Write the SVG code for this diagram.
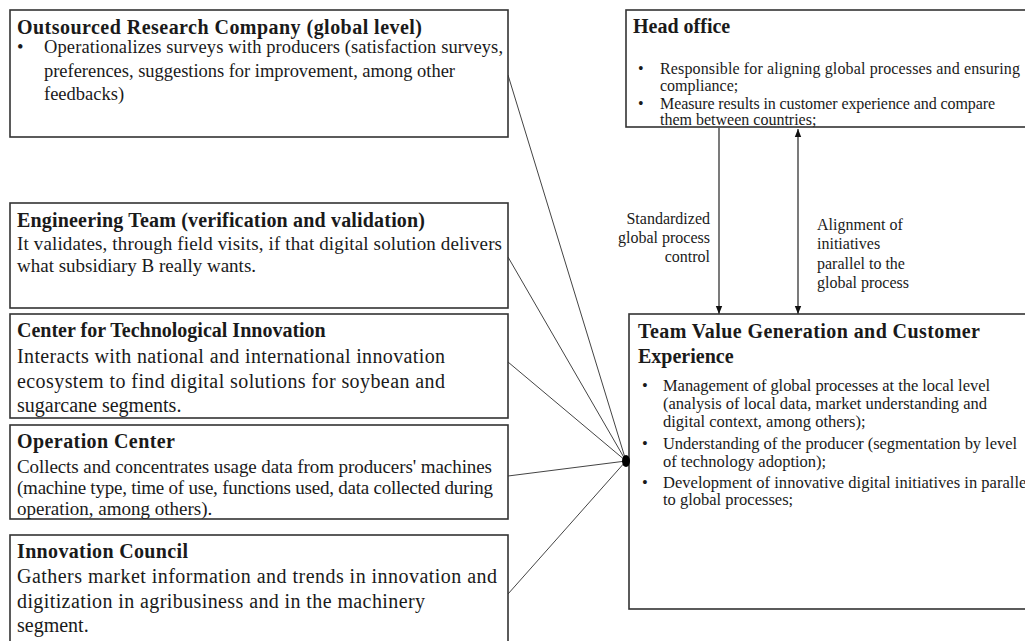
<svg xmlns="http://www.w3.org/2000/svg" width="1025" height="641" viewBox="0 0 1025 641">
  <style>
    .box { fill: #ffffff; stroke: #333333; stroke-width: 1.6; }
    .t { font-family: "Liberation Serif", "Times New Roman", serif; fill: #1a1a1a; }
    .h { font-weight: bold; }
    .link { stroke: #444444; stroke-width: 1; fill: none; }
    .flow { stroke: #222222; stroke-width: 1.2; fill: none; }
  </style>
  <defs>
    <marker id="arrow" markerWidth="8" markerHeight="8" refX="8" refY="4" orient="auto-start-reverse" markerUnits="userSpaceOnUse">
      <path d="M0,0.8 L8,4 L0,7.2 z" fill="#111111"/>
    </marker>
  </defs>

  <rect width="1025" height="641" fill="#ffffff"/>

  <!-- connectors -->
  <g id="connectors">
    <line class="link" x1="508" y1="75" x2="626" y2="461"/>
    <line class="link" x1="508" y1="257" x2="626" y2="461"/>
    <line class="link" x1="508" y1="362" x2="626" y2="461"/>
    <line class="link" x1="508" y1="476" x2="626" y2="461"/>
    <line class="link" x1="508" y1="594" x2="626" y2="461"/>
    <line class="flow" x1="719" y1="128" x2="719" y2="314" marker-end="url(#arrow)"/>
    <line class="flow" x1="798" y1="129" x2="798" y2="314" stroke="#555555" marker-start="url(#arrow)" marker-end="url(#arrow)"/>
  </g>

  <!-- left column -->
  <g id="research-company">
    <rect class="box" x="10" y="10" width="498" height="127"/>
    <text class="t h" x="17" y="34" font-size="20" textLength="405" lengthAdjust="spacing">Outsourced Research Company (global level)</text>
    <text class="t" x="17" y="53" font-size="18.5">•</text>
    <text class="t" x="44" y="53" font-size="18.5" textLength="459" lengthAdjust="spacing">Operationalizes surveys with producers (satisfaction surveys,</text>
    <text class="t" x="44" y="77" font-size="18.5" textLength="411" lengthAdjust="spacing">preferences, suggestions for improvement, among other</text>
    <text class="t" x="44" y="100" font-size="18.5">feedbacks)</text>
  </g>

  <g id="engineering-team">
    <rect class="box" x="10" y="203" width="498" height="105"/>
    <text class="t h" x="17" y="227" font-size="20" textLength="408" lengthAdjust="spacing">Engineering Team (verification and validation)</text>
    <text class="t" x="17" y="250" font-size="19" textLength="485" lengthAdjust="spacing">It validates, through field visits, if that digital solution delivers</text>
    <text class="t" x="17" y="272" font-size="19">what subsidiary B really wants.</text>
  </g>

  <g id="tech-innovation-center">
    <rect class="box" x="10" y="314" width="498" height="104"/>
    <text class="t h" x="17" y="337" font-size="20">Center for Technological Innovation</text>
    <text class="t" x="17" y="363" font-size="20" textLength="428" lengthAdjust="spacing">Interacts with national and international innovation</text>
    <text class="t" x="17" y="388" font-size="20" textLength="428" lengthAdjust="spacing">ecosystem to find digital solutions for soybean and</text>
    <text class="t" x="17" y="412" font-size="20">sugarcane segments.</text>
  </g>

  <g id="operation-center">
    <rect class="box" x="10" y="425" width="498" height="94"/>
    <text class="t h" x="17" y="448" font-size="20" textLength="158" lengthAdjust="spacing">Operation Center</text>
    <text class="t" x="17" y="473" font-size="19" textLength="475" lengthAdjust="spacing">Collects and concentrates usage data from producers' machines</text>
    <text class="t" x="17" y="494" font-size="19" textLength="476" lengthAdjust="spacing">(machine type, time of use, functions used, data collected during</text>
    <text class="t" x="17" y="515" font-size="19">operation, among others).</text>
  </g>

  <g id="innovation-council">
    <rect class="box" x="10" y="535" width="498" height="115"/>
    <text class="t h" x="17" y="558" font-size="20" textLength="171" lengthAdjust="spacing">Innovation Council</text>
    <text class="t" x="17" y="583" font-size="20" textLength="480" lengthAdjust="spacing">Gathers market information and trends in innovation and</text>
    <text class="t" x="17" y="608" font-size="20" textLength="408" lengthAdjust="spacing">digitization in agribusiness and in the machinery</text>
    <text class="t" x="17" y="632" font-size="20">segment.</text>
  </g>

  <!-- right column -->
  <g id="head-office">
    <rect class="box" x="626" y="10" width="420" height="117"/>
    <text class="t h" x="633" y="33" font-size="20">Head office</text>
    <text class="t" x="638" y="74" font-size="16">•</text>
    <text class="t" x="660" y="74" font-size="16" textLength="360" lengthAdjust="spacing">Responsible for aligning global processes and ensuring</text>
    <text class="t" x="660" y="91" font-size="16">compliance;</text>
    <text class="t" x="638" y="109" font-size="16">•</text>
    <text class="t" x="660" y="109" font-size="16" textLength="335" lengthAdjust="spacing">Measure results in customer experience and compare</text>
    <text class="t" x="660" y="125" font-size="16">them between countries;</text>
  </g>

  <g id="flow-labels">
    <text class="t" x="710" y="224" font-size="16" text-anchor="end">Standardized</text>
    <text class="t" x="710" y="243" font-size="16" text-anchor="end">global process</text>
    <text class="t" x="710" y="262" font-size="16" text-anchor="end">control</text>
    <text class="t" x="817" y="230" font-size="16">Alignment of</text>
    <text class="t" x="817" y="249" font-size="16">initiatives</text>
    <text class="t" x="817" y="269" font-size="16">parallel to the</text>
    <text class="t" x="817" y="288" font-size="16">global process</text>
  </g>

  <g id="value-generation-team">
    <rect class="box" x="629" y="314" width="420" height="295"/>
    <text class="t h" x="638" y="338" font-size="20" textLength="342" lengthAdjust="spacing">Team Value Generation and Customer</text>
    <text class="t h" x="638" y="363" font-size="20">Experience</text>
    <text class="t" x="642" y="391" font-size="16.5">•</text>
    <text class="t" x="663" y="391" font-size="16.5" textLength="327" lengthAdjust="spacing">Management of global processes at the local level</text>
    <text class="t" x="663" y="409" font-size="16.5" textLength="324" lengthAdjust="spacing">(analysis of local data, market understanding and</text>
    <text class="t" x="663" y="427" font-size="16.5">digital context, among others);</text>
    <text class="t" x="642" y="449" font-size="16.5">•</text>
    <text class="t" x="663" y="449" font-size="16.5" textLength="354" lengthAdjust="spacing">Understanding of the producer (segmentation by level</text>
    <text class="t" x="663" y="467" font-size="16.5">of technology adoption);</text>
    <text class="t" x="642" y="488" font-size="16.5">•</text>
    <text class="t" x="663" y="488" font-size="16.5" textLength="368" lengthAdjust="spacing">Development of innovative digital initiatives in parallel</text>
    <text class="t" x="663" y="505" font-size="16.5">to global processes;</text>
  </g>

  <!-- junction point where the left-side links meet -->
  <g id="hub">
    <ellipse cx="626" cy="461" rx="4" ry="6" fill="#000000"/>
  </g>
</svg>
